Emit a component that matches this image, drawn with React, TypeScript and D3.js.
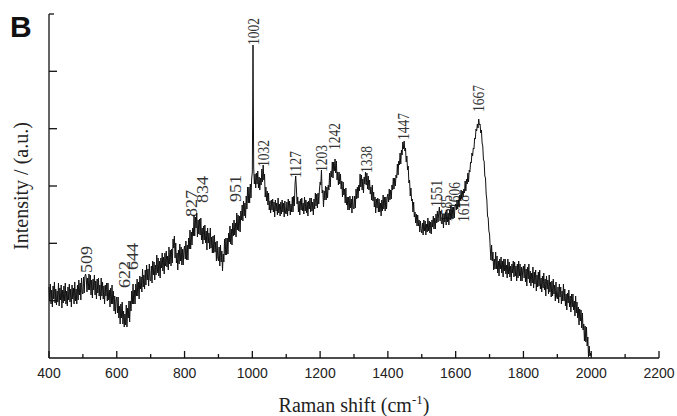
import React from "react";
import * as d3 from "d3";

const wavenumberStart = 400;
const wavenumberStep = 2;
const intensities: number[] = [
  // 400-498
  71, 57, 74, 54, 68, 51, 72, 59, 76, 55, 69, 53, 67, 56, 75, 52, 70, 58, 73, 50, 68, 55, 72, 57, 75, 54, 67, 52, 71, 58,
  74, 56, 69, 51, 73, 59, 70, 54, 76, 57, 69, 54, 73, 58, 78, 63, 75, 58, 80, 65,
  // 500-598
  64, 81, 65, 82, 84, 80, 66, 80, 68, 84, 68, 83, 63, 78, 60, 79, 68, 83, 63, 77, 59, 79, 65, 80, 62, 73, 58, 80, 62, 76,
  59, 72, 54, 73, 62, 75, 57, 75, 58, 68, 51, 70, 54, 73, 54, 67, 47, 62, 44, 58,
  // 600-698
  61, 45, 61, 40, 52, 34, 54, 40, 56, 34, 47, 31, 44, 33, 53, 31, 50, 40, 57, 36, 57, 47, 67, 54, 74, 54, 68, 54, 74, 62,
  79, 62, 76, 59, 82, 69, 81, 66, 89, 71, 83, 69, 88, 73, 93, 78, 89, 72, 94, 78,
  // 700-798
  77, 92, 75, 97, 83, 96, 78, 93, 83, 103, 85, 100, 82, 97, 80, 100, 90, 105, 87, 101, 84, 105, 92, 107, 91, 102, 88, 111, 94, 108,
  92, 109, 95, 119, 110, 122, 100, 115, 95, 105, 88, 108, 94, 114, 97, 111, 93, 109, 93, 108,
  // 800-898
  112, 99, 117, 98, 113, 98, 120, 109, 128, 109, 126, 113, 130, 122, 143, 122, 141, 130, 145, 121, 138, 124, 139, 123, 140, 118, 130, 114, 132, 118,
  133, 115, 127, 108, 130, 115, 125, 109, 130, 110, 121, 105, 122, 105, 123, 106, 116, 97, 117, 100,
  // 900-998
  97, 111, 92, 113, 96, 107, 87, 104, 96, 119, 103, 120, 103, 120, 104, 125, 116, 132, 114, 129, 113, 135, 122, 138, 123, 135, 121, 145, 128, 143,
  127, 142, 126, 147, 138, 153, 137, 157, 142, 155, 140, 162, 149, 171, 155, 171, 155, 174, 160, 179,
  // 1000-1098
  186, 313, 190, 174, 184, 170, 185, 174, 187, 170, 181, 168, 180, 173, 189, 176, 193, 178, 184, 161, 171, 157, 167, 153, 165, 148, 157, 145, 158, 148,
  159, 146, 156, 141, 158, 147, 155, 143, 160, 145, 154, 142, 156, 144, 158, 146, 155, 141, 157, 145,
  // 1100-1198
  144, 156, 142, 159, 147, 157, 143, 154, 146, 161, 146, 162, 152, 174, 182, 170, 154, 161, 146, 157, 143, 159, 148, 160, 147, 155, 144, 161, 147, 158,
  145, 156, 142, 157, 149, 160, 146, 160, 147, 156, 143, 159, 149, 165, 152, 164, 150, 165, 154, 168,
  // 1200-1298
  176, 173, 188, 165, 168, 151, 167, 158, 172, 158, 171, 160, 173, 168, 185, 171, 187, 181, 196, 180, 196, 187, 199, 185, 197, 178, 186, 173, 186, 174,
  184, 169, 177, 161, 176, 163, 169, 155, 170, 153, 161, 148, 161, 148, 162, 150, 159, 145, 162, 150,
  // 1300-1398
  149, 162, 150, 169, 159, 171, 160, 173, 167, 184, 171, 183, 168, 179, 165, 181, 174, 186, 173, 185, 169, 182, 168, 178, 164, 171, 158, 173, 157, 166,
  151, 161, 145, 159, 150, 160, 146, 159, 146, 155, 142, 158, 147, 163, 149, 161, 147, 161, 149, 161,
  // 1400-1498
  164, 156, 169, 158, 168, 159, 173, 168, 180, 169, 180, 172, 183, 180, 194, 183, 197, 193, 205, 194, 208, 203, 216, 209, 217, 207, 210, 196, 202, 188,
  192, 175, 178, 162, 170, 157, 159, 146, 156, 141, 146, 135, 144, 132, 143, 132, 138, 126, 137, 128,
  // 1500-1598
  125, 135, 123, 138, 127, 137, 123, 134, 126, 140, 127, 137, 125, 136, 124, 138, 131, 142, 129, 140, 129, 144, 135, 147, 136, 145, 151, 137, 147, 135,
  134, 144, 130, 144, 136, 146, 133, 148, 136, 145, 133, 148, 138, 152, 140, 151, 139, 151, 140, 152,
  // 1600-1698
  154, 148, 158, 149, 158, 151, 163, 158, 168, 159, 167, 161, 169, 165, 177, 167, 179, 174, 185, 176, 188, 186, 196, 195, 205, 202, 210, 209, 220, 219,
  229, 227, 234, 230, 239, 233, 234, 225, 228, 215, 212, 198, 197, 182, 180, 164, 158, 142, 140, 127,
  // 1700-1798
  124, 110, 98, 113, 97, 106, 88, 99, 89, 106, 89, 102, 85, 97, 82, 99, 89, 101, 85, 97, 81, 99, 87, 99, 84, 93, 80, 99, 84, 96,
  81, 92, 77, 94, 85, 97, 81, 96, 82, 92, 77, 94, 80, 97, 82, 94, 77, 91, 77, 89,
  // 1800-1898
  92, 80, 94, 76, 89, 72, 91, 79, 94, 75, 87, 72, 85, 75, 91, 70, 86, 74, 88, 67, 83, 71, 86, 72, 88, 69, 80, 66, 82, 70,
  85, 68, 79, 62, 82, 69, 78, 64, 83, 66, 76, 61, 77, 62, 79, 64, 73, 57, 76, 61,
  // 1900-2000
  59, 71, 55, 74, 61, 71, 54, 67, 57, 74, 57, 69, 52, 64, 48, 65, 55, 68, 51, 62, 46, 64, 51, 64, 48, 57, 42, 62, 45, 56,
  40, 51, 33, 49, 37, 48, 30, 45, 28, 34, 17, 32, 16, 31, 12, 21, 1, 12, 2, 5, 2,
];

const peakPositions = [509, 622, 644, 827, 834, 951, 1002, 1032, 1127, 1203, 1242, 1338, 1447, 1551, 1585, 1606, 1618, 1667];
const peakLabelLevels = [85, 70, 88, 141, 155, 156, 313, 191, 180, 186, 208, 185, 218, 151, 136, 149, 136, 246];
// small horizontal nudges (px) used in the figure to keep crowded labels apart
const peakLabelNudge = [0, 0, 1, -2, 6, 0, 0, 0, 0, 0, 0, 0, 0, -3, -4, -3, 2, 0];

const xMajorTicks = [400, 600, 800, 1000, 1200, 1400, 1600, 1800, 2000, 2200];
const xMinorTicks = [500, 700, 900, 1100, 1300, 1500, 1700, 1900, 2100];
const yTickLevels = [57.3, 114.7, 172, 229.3, 286.7];

const W = 677;
const H = 416;
const left = 49;
const right = 659;
const top = 14;
const bottom = 358;

export default function App() {
  const x = d3.scaleLinear().domain([400, 2200]).range([left, right]);
  const y = d3.scaleLinear().domain([0, 344]).range([bottom, top]);

  const points: [number, number][] = intensities.map((v, i) => [wavenumberStart + i * wavenumberStep, v]);
  const line = d3
    .line<[number, number]>()
    .x((d) => x(d[0]))
    .y((d) => y(d[1]));

  const serif = "'Liberation Serif', 'Times New Roman', serif";
  const sans = "'Liberation Sans', Arial, sans-serif";

  return (
    <div style={{ position: "fixed", left: 0, top: 0, width: W, height: H, background: "#fff" }}>
      <svg width={W} height={H} viewBox={`0 0 ${W} ${H}`}>
        <rect x={0} y={0} width={W} height={H} fill="#fff" />
        <text x={10} y={37} fontFamily={sans} fontWeight="bold" fontSize={30} fill="#111">
          B
        </text>

        {/* peak labels (drawn under the trace) */}
        {peakPositions.map((p, i) => (
          <text
            key={p}
            transform={`translate(${x(p) + peakLabelNudge[i]},${y(peakLabelLevels[i])}) rotate(-90)`}
            dy="0.35em"
            fontFamily={serif}
            fontSize={16}
            textLength={27}
            lengthAdjust="spacingAndGlyphs"
            fill="#333"
          >
            {p}
          </text>
        ))}

        {/* spectrum */}
        <path d={line(points) || ""} fill="none" stroke="#111" strokeWidth={1} strokeLinejoin="miter" />

        {/* axes */}
        <line x1={left} y1={top} x2={left} y2={bottom} stroke="#111" strokeWidth={1.3} />
        <line x1={left} y1={bottom} x2={right} y2={bottom} stroke="#111" strokeWidth={1.3} />
        <line x1={left} y1={top} x2={left + 5} y2={top} stroke="#111" strokeWidth={1.3} />
        {yTickLevels.map((t) => (
          <line key={t} x1={left} y1={y(t)} x2={left + 8} y2={y(t)} stroke="#111" strokeWidth={1.3} />
        ))}
        {xMajorTicks.map((t) => (
          <line key={t} x1={x(t)} y1={bottom} x2={x(t)} y2={bottom - 7} stroke="#111" strokeWidth={1.3} />
        ))}
        {xMinorTicks.map((t) => (
          <line key={t} x1={x(t)} y1={bottom} x2={x(t)} y2={bottom - 4} stroke="#111" strokeWidth={1.3} />
        ))}
        {xMajorTicks.map((t) => (
          <text key={t} x={x(t)} y={378} textAnchor="middle" fontFamily={sans} fontSize={14} fill="#222">
            {t}
          </text>
        ))}

        {/* axis titles */}
        <text x={(left + right) / 2} y={412} textAnchor="middle" fontFamily={serif} fontSize={20} fill="#222">
          Raman shift (cm
          <tspan fontSize={13} dy={-8}>
            -1
          </tspan>
          <tspan dy={8}>)</tspan>
        </text>
        <text
          transform={`translate(28,${(top + bottom) / 2}) rotate(-90)`}
          textAnchor="middle"
          fontFamily={serif}
          fontSize={20}
          fill="#222"
        >
          Intensity / (a.u.)
        </text>
      </svg>
    </div>
  );
}
